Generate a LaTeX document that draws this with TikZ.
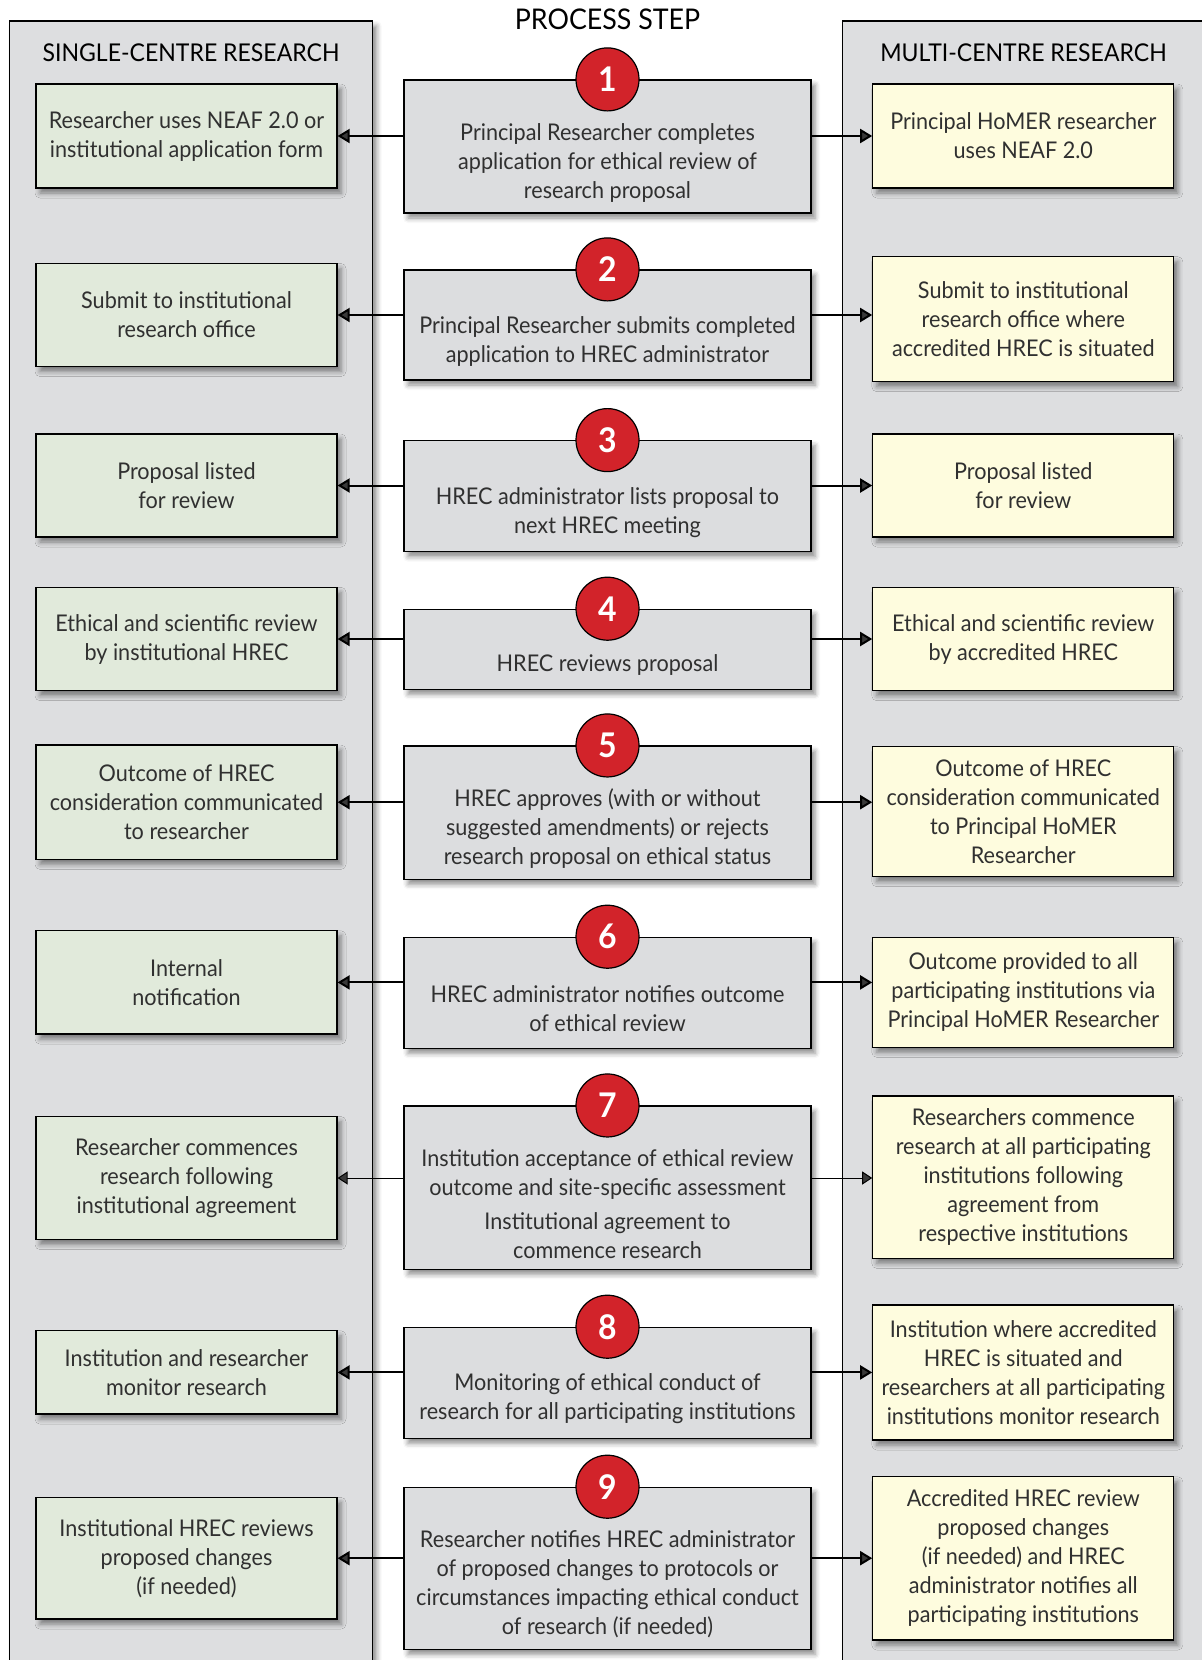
\documentclass[tikz,border=0pt]{standalone}
\usepackage{fontspec}
\setmainfont{Lato}[FakeStretch=0.94]
\usetikzlibrary{arrows.meta,calc,shadows.blur}

\definecolor{panelgrey}{RGB}{221,222,224}
\definecolor{stepgrey}{RGB}{220,221,223}
\definecolor{singlegreen}{RGB}{225,234,219}
\definecolor{multiyellow}{RGB}{254,252,222}
\definecolor{badgered}{RGB}{210,35,42}
\definecolor{inkgrey}{RGB}{48,48,48}

\tikzset{
  softshadow/.style={blur shadow={shadow xshift=4pt, shadow yshift=-5pt,
      shadow blur radius=5pt, shadow opacity=45}},
  panel/.style={draw=black, line width=1.2pt, fill=panelgrey, softshadow},
  basebox/.style={draw=black, line width=1.2pt, rectangle, inner sep=0pt,
      align=center, text=inkgrey, font=\fontsize{23}{29}\selectfont, softshadow},
  lbox/.style={basebox, fill=singlegreen, minimum width=301pt},
  rbox/.style={basebox, fill=multiyellow, minimum width=301pt},
  cbox/.style={basebox, fill=stepgrey, minimum width=407pt},
  ctext/.style={align=center, text=inkgrey, inner sep=0pt,
      font=\fontsize{23}{29}\selectfont},
  badge/.style={circle, draw=black, line width=1.2pt, fill=badgered,
      minimum size=63pt, inner sep=0pt, text=white,
      font=\fontsize{34}{34}\selectfont\bfseries},
  colhead/.style={anchor=base, text=black, inner sep=0pt,
      font=\fontsize{24.5}{28}\selectfont},
  arr/.style={line width=2pt, -{Triangle[length=12pt,width=14pt]}},
  thinarr/.style={line width=1pt, -{Triangle[length=10pt,width=13pt]}},
}

\begin{document}
\begin{tikzpicture}[x=1pt,y=-1pt]
\useasboundingbox (0,0) rectangle (1202,1660);
\clip (0,0) rectangle (1202,1660);

% column panels
\path[panel] (9.3,21) rectangle (372.7,1720);
\path[panel] (842.7,21) rectangle (1230,1720);

% headings
\node[colhead, font=\fontsize{28.5}{32}\selectfont] (hstep) at (607.5,29.3) {PROCESS STEP};
\node[colhead] (hsingle) at (191,61) {SINGLE-CENTRE RESEARCH};
\node[colhead] (hmulti) at (1023.5,61) {MULTI-CENTRE RESEARCH};

% step 1
\node[cbox, minimum height=133pt] (c1) at (607.5,146.5) {};
\node[lbox, minimum height=104pt] (l1) at (186.5,136) {Researcher uses NEAF 2.0 or\\institutional application form};
\node[rbox, minimum height=104pt] (r1) at (1023.3,136) {Principal HoMER researcher\\uses NEAF 2.0};

% step 2
\node[cbox, minimum height=110pt] (c2) at (607.5,325) {};
\node[lbox, minimum height=103pt] (l2) at (186.5,315) {Submit to institutional\\research office};
\node[rbox, minimum height=125pt] (r2) at (1023.3,319.2) {Submit to institutional\\research office where\\accredited HREC is situated};

% step 3
\node[cbox, minimum height=111pt] (c3) at (607.5,496.2) {};
\node[lbox, minimum height=103pt] (l3) at (186.5,485.5) {Proposal listed\\for review};
\node[rbox, minimum height=103pt] (r3) at (1023.3,485.5) {Proposal listed\\for review};

% step 4
\node[cbox, minimum height=80pt] (c4) at (607.5,649.3) {};
\node[lbox, minimum height=103.4pt] (l4) at (186.5,639) {Ethical and scientific review\\by institutional HREC};
\node[rbox, minimum height=103.4pt] (r4) at (1023.3,639) {Ethical and scientific review\\by accredited HREC};

% step 5
\node[cbox, minimum height=133.3pt] (c5) at (607.5,812.7) {};
\node[lbox, minimum height=114.3pt] (l5) at (186.5,802.2) {Outcome of HREC\\consideration communicated\\to researcher};
\node[rbox, minimum height=130pt] (r5) at (1023.3,811.7) {Outcome of HREC\\consideration communicated\\to Principal HoMER\\Researcher};

% step 6
\node[cbox, minimum height=111pt] (c6) at (607.5,992.8) {};
\node[lbox, minimum height=103.3pt] (l6) at (186.5,982.4) {Internal\\notification};
\node[rbox, minimum height=110pt] (r6) at (1023.3,992.3) {Outcome provided to all\\participating institutions via\\Principal HoMER Researcher};

% step 7
\node[cbox, minimum height=163.3pt] (c7) at (607.5,1187.7) {};
\node[lbox, minimum height=123pt] (l7) at (186.5,1178) {Researcher commences\\research following\\institutional agreement};
\node[rbox, minimum height=162.3pt] (r7) at (1023.3,1177.2) {Researchers commence\\research at all participating\\institutions following\\agreement from\\respective institutions};

% step 8
\node[cbox, minimum height=111pt] (c8) at (607.5,1382.8) {};
\node[lbox, minimum height=83.3pt] (l8) at (186.5,1372.4) {Institution and researcher\\monitor research};
\node[rbox, minimum height=135pt] (r8) at (1023.3,1372.5) {Institution where accredited\\HREC is situated and\\researchers at all participating\\institutions monitor research};

% step 9
\node[cbox, minimum height=162pt] (c9) at (607.5,1568.3) {};
\node[lbox, minimum height=121.7pt] (l9) at (186.5,1558.2) {Institutional HREC reviews\\proposed changes\\(if needed)};
\node[rbox, minimum height=163.3pt] (r9) at (1023.3,1558.4) {Accredited HREC review\\proposed changes\\(if needed) and HREC\\administrator notifies all\\participating institutions};

% numbered badges on the step boxes
\foreach \i in {1,...,9} {
  \node[badge] (b\i) at (c\i.north) {\i};
}

% step texts, centred below the badges
\node[ctext] (t1) at ($(b1.south)!0.5!(c1.south)$) {Principal Researcher completes\\application for ethical review of\\research proposal};
\node[ctext] (t2) at ($(b2.south)!0.5!(c2.south)$) {Principal Researcher submits completed\\application to HREC administrator};
\node[ctext] (t3) at ($(b3.south)!0.5!(c3.south)$) {HREC administrator lists proposal to\\next HREC meeting};
\node[ctext] (t4) at ($(b4.south)!0.5!(c4.south)$) {HREC reviews proposal};
\node[ctext] (t5) at ($(b5.south)!0.5!(c5.south)$) {HREC approves (with or without\\suggested amendments) or rejects\\research proposal on ethical status};
\node[ctext] (t6) at ($(b6.south)!0.5!(c6.south)$) {HREC administrator notifies outcome\\of ethical review};
\node[ctext] (t7) at ($(b7.south)!0.5!(c7.south)$) {Institution acceptance of ethical review\\outcome and site-specific assessment\\[5pt]Institutional agreement to\\commence research};
\node[ctext] (t8) at ($(b8.south)!0.5!(c8.south)$) {Monitoring of ethical conduct of\\research for all participating institutions};
\node[ctext] (t9) at ($(b9.south)!0.5!(c9.south)$) {Researcher notifies HREC administrator\\of proposed changes to protocols or\\circumstances impacting ethical conduct\\of research (if needed)};

% connectors from each step to both research streams
\foreach \i in {1,2,3,4,5,6,8,9} {
  \draw[arr] (c\i.west |- l\i.east) -- (l\i.east);
  \draw[arr] (c\i.east |- l\i.east) -- (r\i.west |- l\i.east);
}
\draw[thinarr] (c7.west |- l7.east) -- (l7.east);
\draw[thinarr] (c7.east |- l7.east) -- (r7.west |- l7.east);
\end{tikzpicture}
\end{document}
